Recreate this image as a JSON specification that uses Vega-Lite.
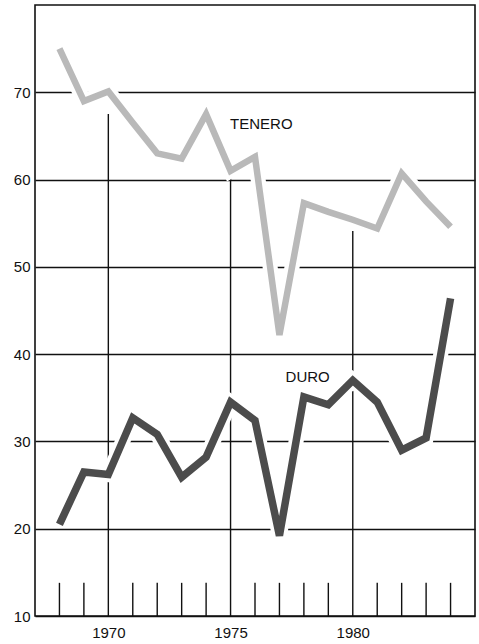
{
  "$schema": "https://vega.github.io/schema/vega-lite/v6.json",
  "width": 440,
  "height": 611,
  "autosize": {"type": "none"},
  "padding": {"left": 35, "top": 5, "right": 4, "bottom": 28},
  "background": "white",
  "config": {
    "view": {"stroke": "#111111", "strokeWidth": 1.6},
    "font": "Liberation Sans"
  },
  "datasets": {
    "series": [
      {"series": "TENERO", "year": 1968, "value": 75.0},
      {"series": "TENERO", "year": 1969, "value": 69.0},
      {"series": "TENERO", "year": 1970, "value": 70.1},
      {"series": "TENERO", "year": 1971, "value": 66.5},
      {"series": "TENERO", "year": 1972, "value": 63.0},
      {"series": "TENERO", "year": 1973, "value": 62.4},
      {"series": "TENERO", "year": 1974, "value": 67.5},
      {"series": "TENERO", "year": 1975, "value": 61.0},
      {"series": "TENERO", "year": 1976, "value": 62.6},
      {"series": "TENERO", "year": 1977, "value": 42.2},
      {"series": "TENERO", "year": 1978, "value": 57.3},
      {"series": "TENERO", "year": 1979, "value": 56.3},
      {"series": "TENERO", "year": 1980, "value": 55.4},
      {"series": "TENERO", "year": 1981, "value": 54.4},
      {"series": "TENERO", "year": 1982, "value": 60.7},
      {"series": "TENERO", "year": 1983, "value": 57.5},
      {"series": "TENERO", "year": 1984, "value": 54.6},
      {"series": "DURO", "year": 1968, "value": 20.5},
      {"series": "DURO", "year": 1969, "value": 26.5},
      {"series": "DURO", "year": 1970, "value": 26.2},
      {"series": "DURO", "year": 1971, "value": 32.7},
      {"series": "DURO", "year": 1972, "value": 30.8},
      {"series": "DURO", "year": 1973, "value": 25.9},
      {"series": "DURO", "year": 1974, "value": 28.2},
      {"series": "DURO", "year": 1975, "value": 34.5},
      {"series": "DURO", "year": 1976, "value": 32.4},
      {"series": "DURO", "year": 1977, "value": 19.2},
      {"series": "DURO", "year": 1978, "value": 35.1},
      {"series": "DURO", "year": 1979, "value": 34.2},
      {"series": "DURO", "year": 1980, "value": 37.0},
      {"series": "DURO", "year": 1981, "value": 34.5},
      {"series": "DURO", "year": 1982, "value": 29.0},
      {"series": "DURO", "year": 1983, "value": 30.4},
      {"series": "DURO", "year": 1984, "value": 46.4}
    ],
    "ticks": [
      {"year": 1968, "top": 13.8},
      {"year": 1969, "top": 13.8},
      {"year": 1970, "top": 67.5},
      {"year": 1971, "top": 13.8},
      {"year": 1972, "top": 13.8},
      {"year": 1973, "top": 13.8},
      {"year": 1974, "top": 13.8},
      {"year": 1975, "top": 60.4},
      {"year": 1976, "top": 13.8},
      {"year": 1977, "top": 13.8},
      {"year": 1978, "top": 13.8},
      {"year": 1979, "top": 13.8},
      {"year": 1980, "top": 54.1},
      {"year": 1981, "top": 13.8},
      {"year": 1982, "top": 13.8},
      {"year": 1983, "top": 13.8},
      {"year": 1984, "top": 13.8}
    ],
    "labels": [
      {"label": "TENERO", "year": 1974.98, "value": 66.4},
      {"label": "DURO", "year": 1977.25, "value": 37.4}
    ]
  },
  "layer": [
    {
      "data": {"name": "ticks"},
      "mark": {"type": "rule", "color": "#111111", "strokeWidth": 1.4},
      "encoding": {
        "x": {
          "field": "year",
          "type": "quantitative",
          "scale": {"domain": [1967, 1985], "nice": false, "zero": false},
          "axis": {
            "values": [1970, 1975, 1980],
            "format": "d",
            "title": null,
            "grid": false,
            "domain": false,
            "ticks": false,
            "labelPadding": 9,
            "labelFontSize": 15,
            "labelColor": "#111111",
            "labelFont": "Liberation Sans"
          }
        },
        "y": {
          "field": "top",
          "type": "quantitative",
          "scale": {"domain": [10, 80], "nice": false, "zero": false},
          "axis": {
            "values": [10, 20, 30, 40, 50, 60, 70],
            "title": null,
            "grid": true,
            "gridColor": "#111111",
            "gridOpacity": 1,
            "gridWidth": 1.4,
            "domain": false,
            "ticks": false,
            "labelPadding": 5,
            "labelFontSize": 15,
            "labelColor": "#111111",
            "labelFont": "Liberation Sans"
          }
        },
        "y2": {"datum": 10}
      }
    },
    {
      "data": {"name": "series"},
      "mark": {"type": "line", "color": "white", "strokeWidth": 15},
      "encoding": {
        "x": {"field": "year", "type": "quantitative"},
        "y": {"field": "value", "type": "quantitative"},
        "detail": {"field": "series", "type": "nominal"}
      }
    },
    {
      "data": {"name": "series"},
      "mark": {"type": "line"},
      "encoding": {
        "x": {"field": "year", "type": "quantitative"},
        "y": {"field": "value", "type": "quantitative"},
        "color": {
          "field": "series",
          "type": "nominal",
          "scale": {"domain": ["TENERO", "DURO"], "range": ["#b9b9b9", "#4c4c4c"]},
          "legend": null
        },
        "strokeWidth": {
          "field": "series",
          "type": "nominal",
          "scale": {"domain": ["TENERO", "DURO"], "range": [6.5, 7.5]},
          "legend": null
        }
      }
    },
    {
      "data": {"name": "labels"},
      "mark": {"type": "text", "align": "left", "baseline": "middle", "fontSize": 15, "font": "Liberation Sans", "color": "#111111"},
      "encoding": {
        "x": {"field": "year", "type": "quantitative"},
        "y": {"field": "value", "type": "quantitative"},
        "text": {"field": "label"}
      }
    }
  ]
}
